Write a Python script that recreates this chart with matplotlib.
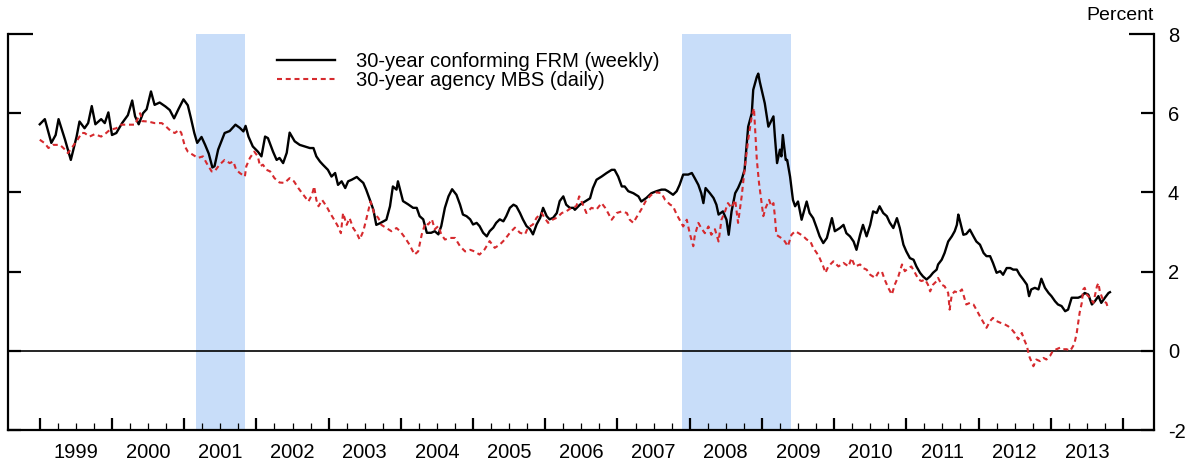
import numpy as np
import matplotlib
matplotlib.use("Agg")
import matplotlib.pyplot as plt
import matplotlib.transforms as mtransforms

plt.rcParams['font.family'] = ['Liberation Sans', 'DejaVu Sans']

# 30-year conforming FRM (weekly): decimal year, percent
frm_t = [1999.00, 1999.07, 1999.16, 1999.22, 1999.26, 1999.35, 1999.43, 1999.51, 1999.55, 1999.62,
         1999.67, 1999.72, 1999.77, 1999.85, 1999.90, 1999.95, 2000.00, 2000.06, 2000.14, 2000.22,
         2000.28, 2000.32, 2000.37, 2000.43, 2000.48, 2000.54, 2000.59, 2000.66, 2000.74, 2000.80,
         2000.86, 2000.92, 2000.99, 2001.05, 2001.09, 2001.14, 2001.18, 2001.24, 2001.29, 2001.34,
         2001.39, 2001.42, 2001.47, 2001.56, 2001.63, 2001.71, 2001.77, 2001.82, 2001.85, 2001.89,
         2001.95, 2002.02, 2002.07, 2002.12, 2002.16, 2002.23, 2002.28, 2002.32, 2002.37, 2002.42,
         2002.46, 2002.53, 2002.60, 2002.67, 2002.74, 2002.79, 2002.83, 2002.88, 2002.92, 2002.99,
         2003.04, 2003.09, 2003.13, 2003.18, 2003.23, 2003.27, 2003.32, 2003.39, 2003.43, 2003.48,
         2003.52, 2003.57, 2003.62, 2003.66, 2003.71, 2003.76, 2003.80, 2003.85, 2003.89, 2003.94,
         2003.96, 2003.99, 2004.03, 2004.10, 2004.17, 2004.22, 2004.26, 2004.31, 2004.36, 2004.42,
         2004.47, 2004.52, 2004.56, 2004.61, 2004.66, 2004.71, 2004.77, 2004.82, 2004.86, 2004.91,
         2004.96, 2005.00, 2005.05, 2005.09, 2005.14, 2005.19, 2005.23, 2005.28, 2005.32, 2005.37,
         2005.42, 2005.46, 2005.51, 2005.56, 2005.60, 2005.65, 2005.69, 2005.74, 2005.79, 2005.83,
         2005.88, 2005.93, 2005.97, 2006.02, 2006.06, 2006.11, 2006.16, 2006.20, 2006.25, 2006.29,
         2006.34, 2006.39, 2006.41, 2006.48, 2006.55, 2006.62, 2006.66, 2006.71, 2006.78, 2006.85,
         2006.92, 2006.96, 2007.01, 2007.06, 2007.10, 2007.15, 2007.22, 2007.29, 2007.33, 2007.40,
         2007.47, 2007.54, 2007.61, 2007.66, 2007.70, 2007.77, 2007.82, 2007.86, 2007.91, 2007.98,
         2008.03, 2008.07, 2008.12, 2008.16, 2008.19, 2008.22, 2008.28, 2008.33, 2008.37, 2008.40,
         2008.46, 2008.51, 2008.54, 2008.58, 2008.63, 2008.67, 2008.72, 2008.76, 2008.81, 2008.86,
         2008.88, 2008.93, 2008.95, 2008.97, 2009.04, 2009.09, 2009.16, 2009.18, 2009.21, 2009.25,
         2009.27, 2009.29, 2009.33, 2009.35, 2009.39, 2009.43, 2009.46, 2009.50, 2009.55, 2009.62,
         2009.66, 2009.71, 2009.76, 2009.80, 2009.85, 2009.90, 2009.97, 2010.01, 2010.08, 2010.13,
         2010.17, 2010.22, 2010.27, 2010.31, 2010.36, 2010.40, 2010.45, 2010.50, 2010.54, 2010.59,
         2010.63, 2010.68, 2010.73, 2010.77, 2010.82, 2010.87, 2010.91, 2010.96, 2011.00, 2011.05,
         2011.10, 2011.14, 2011.19, 2011.23, 2011.28, 2011.33, 2011.37, 2011.42, 2011.44, 2011.49,
         2011.53, 2011.58, 2011.63, 2011.67, 2011.70, 2011.72, 2011.74, 2011.79, 2011.83, 2011.88,
         2011.93, 2011.97, 2012.02, 2012.07, 2012.11, 2012.16, 2012.20, 2012.25, 2012.30, 2012.34,
         2012.39, 2012.44, 2012.48, 2012.53, 2012.57, 2012.62, 2012.67, 2012.70, 2012.73, 2012.78,
         2012.83, 2012.87, 2012.92, 2012.97, 2013.01, 2013.06, 2013.10, 2013.15, 2013.20, 2013.24,
         2013.29, 2013.33, 2013.38, 2013.43, 2013.47, 2013.52, 2013.57, 2013.61, 2013.66, 2013.70,
         2013.75, 2013.80, 2013.82]
frm_v = [5.72, 5.85, 5.25, 5.45, 5.85, 5.33, 4.82, 5.41, 5.79, 5.62,
         5.75, 6.18, 5.72, 5.85, 5.75, 6.02, 5.45, 5.50, 5.75, 5.95,
         6.32, 5.92, 5.72, 6.00, 6.10, 6.55, 6.21, 6.27, 6.17, 6.08,
         5.87, 6.10, 6.35, 6.20, 5.90, 5.50, 5.25, 5.40, 5.20, 4.98,
         4.63, 4.66, 5.08, 5.50, 5.55, 5.71, 5.63, 5.54, 5.68, 5.41,
         5.16, 5.03, 4.91, 5.41, 5.37, 5.03, 4.82, 4.87, 4.74, 5.00,
         5.51, 5.29, 5.20, 5.16, 5.12, 5.12, 4.91, 4.78, 4.70, 4.57,
         4.40, 4.49, 4.19, 4.28, 4.11, 4.28, 4.32, 4.39, 4.32, 4.24,
         4.07, 3.82, 3.56, 3.18, 3.22, 3.27, 3.31, 3.65, 4.15, 4.07,
         4.28, 4.07, 3.78, 3.70, 3.61, 3.61, 3.40, 3.32, 2.98, 2.98,
         3.02, 2.94, 3.15, 3.61, 3.90, 4.08, 3.94, 3.69, 3.44, 3.40,
         3.32, 3.19, 3.23, 3.15, 2.98, 2.89, 3.02, 3.11, 3.23, 3.32,
         3.27, 3.40, 3.61, 3.69, 3.65, 3.48, 3.32, 3.15, 3.07, 2.94,
         3.19, 3.36, 3.61, 3.40, 3.32, 3.36, 3.48, 3.78, 3.90, 3.69,
         3.61, 3.61, 3.56, 3.69, 3.77, 3.85, 4.11, 4.32, 4.40, 4.49,
         4.57, 4.57, 4.40, 4.15, 4.15, 4.03, 3.98, 3.90, 3.77, 3.86,
         3.98, 4.03, 4.07, 4.07, 4.03, 3.94, 4.03, 4.19, 4.45, 4.45,
         4.49, 4.36, 4.19, 3.98, 3.73, 4.11, 3.98, 3.86, 3.69, 3.44,
         3.52, 3.31, 2.93, 3.52, 3.98, 4.11, 4.32, 4.57, 5.66, 6.00,
         6.59, 6.92, 7.00, 6.80, 6.25, 5.66, 5.92, 5.41, 4.74, 5.08,
         4.91, 5.45, 4.82, 4.82, 4.40, 3.81, 3.65, 3.77, 3.31, 3.77,
         3.48, 3.35, 3.10, 2.89, 2.72, 2.85, 3.35, 3.02, 3.10, 3.18,
         2.97, 2.89, 2.76, 2.55, 2.93, 3.18, 2.89, 3.18, 3.52, 3.48,
         3.65, 3.48, 3.40, 3.24, 3.10, 3.35, 3.10, 2.68, 2.51, 2.34,
         2.30, 2.13, 1.97, 1.88, 1.80, 1.88, 1.97, 2.05, 2.18, 2.30,
         2.47, 2.76, 2.89, 3.02, 3.18, 3.44, 3.30, 2.93, 2.95, 3.06,
         2.89, 2.76, 2.68, 2.47, 2.39, 2.39, 2.22, 1.97, 2.01, 1.92,
         2.09, 2.09, 2.05, 2.05, 1.92, 1.80, 1.67, 1.38, 1.55, 1.59,
         1.55, 1.82, 1.59, 1.46, 1.38, 1.25, 1.17, 1.13, 1.00, 1.04,
         1.34, 1.34, 1.34, 1.38, 1.46, 1.42, 1.17, 1.25, 1.38, 1.21,
         1.34, 1.46, 1.48]

# 30-year agency MBS (daily): decimal year, percent
mbs_t = [1999.00, 1999.07, 1999.12, 1999.18, 1999.28, 1999.35, 1999.39, 1999.44, 1999.51, 1999.58,
         1999.62, 1999.69, 1999.76, 1999.85, 1999.92, 1999.97, 2000.06, 2000.13, 2000.22, 2000.32,
         2000.39, 2000.42, 2000.50, 2000.59, 2000.69, 2000.75, 2000.82, 2000.87, 2000.93, 2000.96,
         2001.01, 2001.05, 2001.12, 2001.19, 2001.26, 2001.31, 2001.38, 2001.42, 2001.49, 2001.56,
         2001.63, 2001.68, 2001.72, 2001.77, 2001.84, 2001.86, 2001.91, 2001.97, 2002.02, 2002.05,
         2002.09, 2002.14, 2002.19, 2002.25, 2002.32, 2002.39, 2002.46, 2002.52, 2002.58, 2002.65,
         2002.72, 2002.77, 2002.80, 2002.83, 2002.86, 2002.91, 2002.97, 2003.02, 2003.09, 2003.13,
         2003.17, 2003.20, 2003.25, 2003.29, 2003.34, 2003.39, 2003.43, 2003.48, 2003.52, 2003.58,
         2003.63, 2003.69, 2003.73, 2003.80, 2003.87, 2003.94, 2003.99, 2004.06, 2004.12, 2004.19,
         2004.24, 2004.29, 2004.34, 2004.38, 2004.43, 2004.47, 2004.52, 2004.56, 2004.61, 2004.68,
         2004.75, 2004.82, 2004.89, 2004.96, 2005.02, 2005.09, 2005.16, 2005.23, 2005.30, 2005.37,
         2005.44, 2005.51, 2005.58, 2005.65, 2005.72, 2005.76, 2005.83, 2005.88, 2005.95, 2005.99,
         2006.04, 2006.11, 2006.16, 2006.23, 2006.29, 2006.36, 2006.43, 2006.47, 2006.50, 2006.57,
         2006.64, 2006.71, 2006.78, 2006.83, 2006.87, 2006.92, 2006.99, 2007.06, 2007.13, 2007.17,
         2007.22, 2007.26, 2007.33, 2007.40, 2007.47, 2007.54, 2007.61, 2007.66, 2007.73, 2007.77,
         2007.82, 2007.86, 2007.91, 2007.96, 2008.00, 2008.05, 2008.07, 2008.12, 2008.16, 2008.21,
         2008.26, 2008.30, 2008.35, 2008.40, 2008.44, 2008.49, 2008.53, 2008.58, 2008.63, 2008.67,
         2008.72, 2008.76, 2008.81, 2008.86, 2008.89, 2008.93, 2008.96, 2008.99, 2009.02, 2009.05,
         2009.10, 2009.13, 2009.16, 2009.18, 2009.20, 2009.30, 2009.36, 2009.41, 2009.46, 2009.50,
         2009.57, 2009.62, 2009.67, 2009.71, 2009.76, 2009.80, 2009.85, 2009.88, 2009.92, 2009.99,
         2010.06, 2010.13, 2010.20, 2010.24, 2010.29, 2010.36, 2010.40, 2010.45, 2010.50, 2010.57,
         2010.61, 2010.66, 2010.70, 2010.75, 2010.80, 2010.84, 2010.89, 2010.94, 2010.98, 2011.03,
         2011.07, 2011.12, 2011.17, 2011.21, 2011.26, 2011.30, 2011.33, 2011.37, 2011.42, 2011.44,
         2011.49, 2011.53, 2011.58, 2011.60, 2011.63, 2011.67, 2011.72, 2011.77, 2011.83, 2011.88,
         2011.93, 2011.97, 2012.02, 2012.07, 2012.11, 2012.16, 2012.20, 2012.25, 2012.30, 2012.37,
         2012.41, 2012.46, 2012.50, 2012.55, 2012.60, 2012.63, 2012.67, 2012.70, 2012.73, 2012.76,
         2012.80, 2012.85, 2012.90, 2012.94, 2012.99, 2013.03, 2013.08, 2013.13, 2013.17, 2013.22,
         2013.27, 2013.31, 2013.33, 2013.36, 2013.38, 2013.40, 2013.43, 2013.45, 2013.47, 2013.50,
         2013.54, 2013.59, 2013.64, 2013.66, 2013.68, 2013.73, 2013.77, 2013.80]
mbs_v = [5.33, 5.24, 5.12, 5.20, 5.20, 5.08, 4.99, 5.12, 5.29, 5.50,
         5.50, 5.41, 5.47, 5.41, 5.50, 5.58, 5.62, 5.71, 5.71, 5.71,
         6.00, 5.80, 5.79, 5.75, 5.75, 5.66, 5.54, 5.50, 5.58, 5.50,
         5.16, 5.03, 4.95, 4.87, 4.91, 4.74, 4.53, 4.53, 4.70, 4.82,
         4.74, 4.78, 4.57, 4.49, 4.40, 4.66, 4.87, 5.03, 4.91, 4.66,
         4.70, 4.57, 4.53, 4.36, 4.25, 4.24, 4.36, 4.28, 4.11, 3.94,
         3.77, 3.94, 4.15, 3.81, 3.65, 3.81, 3.65, 3.48, 3.27, 3.14,
         2.97, 3.48, 3.18, 3.35, 3.10, 2.97, 2.81, 3.02, 3.31, 3.77,
         3.48, 3.35, 3.18, 3.10, 3.02, 3.10, 3.02, 2.85, 2.68, 2.43,
         2.51, 2.94, 3.23, 3.19, 3.32, 3.07, 3.15, 2.94, 2.81, 2.85,
         2.85, 2.64, 2.51, 2.55, 2.51, 2.43, 2.56, 2.77, 2.60, 2.68,
         2.81, 2.98, 3.11, 2.98, 2.94, 3.11, 3.19, 3.36, 3.48, 3.36,
         3.23, 3.32, 3.36, 3.48, 3.52, 3.61, 3.65, 3.90, 3.78, 3.48,
         3.61, 3.57, 3.73, 3.61, 3.48, 3.31, 3.48, 3.52, 3.48, 3.31,
         3.23, 3.36, 3.57, 3.81, 3.94, 4.00, 3.98, 3.81, 3.69, 3.65,
         3.44, 3.31, 3.14, 3.31, 2.97, 2.64, 2.90, 3.23, 3.10, 2.97,
         3.14, 2.93, 3.07, 2.76, 3.31, 3.52, 3.73, 3.61, 3.81, 3.23,
         3.90, 4.57, 5.33, 5.92, 6.13, 4.82, 4.24, 3.81, 3.40, 3.60,
         3.81, 3.65, 3.73, 3.40, 2.93, 2.81, 2.64, 2.93, 3.02, 2.98,
         2.90, 2.81, 2.77, 2.60, 2.47, 2.34, 2.13, 1.97, 2.13, 2.26,
         2.13, 2.22, 2.13, 2.34, 2.13, 2.18, 2.09, 2.05, 1.92, 1.84,
         1.97, 2.01, 1.80, 1.59, 1.42, 1.67, 1.88, 2.18, 2.01, 2.09,
         2.13, 1.97, 1.80, 1.76, 1.80, 1.67, 1.50, 1.67, 1.76, 1.84,
         1.67, 1.63, 1.46, 1.04, 1.42, 1.50, 1.46, 1.55, 1.17, 1.21,
         1.17, 1.04, 0.87, 0.71, 0.58, 0.75, 0.83, 0.75, 0.71, 0.66,
         0.62, 0.54, 0.45, 0.29, 0.45, 0.29, 0.12, -0.13, -0.26, -0.39,
         -0.22, -0.26, -0.18, -0.22, -0.13, 0.00, 0.04, 0.08, 0.04, 0.04,
         0.00, 0.12, 0.20, 0.45, 0.71, 0.96, 1.21, 1.55, 1.59, 1.42,
         1.34, 1.21, 1.63, 1.71, 1.50, 1.25, 1.21, 1.04]

recessions = [(2001.17, 2001.84), (2007.90, 2009.41)]
years = list(range(1999, 2014))
yticks = [-2, 0, 2, 4, 6, 8]

fs = 14.5

fig = plt.figure(figsize=(11.95, 4.68), dpi=100)
ax = fig.add_axes([8 / 1195, 1 - 430 / 468, (1154 - 8) / 1195, (430 - 34) / 468])

for a, b in recessions:
    ax.axvspan(a, b, color='#c8ddf9', lw=0, zorder=0)
ax.axhline(0, color='black', lw=1.2, zorder=1)

ax.plot(frm_t, frm_v, color='black', lw=1.7, zorder=3,
        label='30-year conforming FRM (weekly)')
ax.plot(mbs_t, mbs_v, color='#d62a2e', lw=1.5, ls=(0, (2.4, 1.8)), zorder=4,
        label='30-year agency MBS (daily)')

ax.set_xlim(1998.56, 2014.43)
ax.set_ylim(-2, 8)

for side in ['left', 'right', 'bottom']:
    ax.spines[side].set_linewidth(1.6)
ax.spines['top'].set_visible(False)

ax.set_xticks(years + [2014])
ax.set_xticks([y + q for y in years for q in (0.25, 0.5, 0.75)], minor=True)
ax.tick_params(axis='x', which='major', direction='in', length=9, width=1.6,
               labelbottom=False)
ax.tick_params(axis='x', which='minor', direction='in', length=5, width=0.9)

ax.set_yticks(yticks)
ax.set_yticklabels([str(v) for v in yticks])
ax.tick_params(axis='y', which='both', direction='in', length=9.5, width=1.6,
               left=True, right=True, labelleft=False, labelright=True,
               labelsize=fs, pad=10)
top_tick = ax.yaxis.get_major_ticks()[-1]
top_tick.tick1line.set_markersize(18)
top_tick.tick2line.set_markersize(18)

trans = mtransforms.blended_transform_factory(ax.transData, ax.transAxes)
for y in years:
    ax.text(y + 0.5, -0.056, str(y), transform=trans, ha='center', va='center',
            fontsize=fs)

fig.text(1154 / 1195, 1 - 15 / 468, 'Percent', ha='right', va='center', fontsize=14)

ax.legend(loc='upper left', bbox_to_anchor=(277 / 1195, 1 - 52 / 468),
          bbox_transform=fig.transFigure, frameon=False, fontsize=fs,
          handlelength=2.9, handletextpad=1.0, labelspacing=0.0,
          borderpad=0, borderaxespad=0)

fig.savefig('out.png', dpi=100)
